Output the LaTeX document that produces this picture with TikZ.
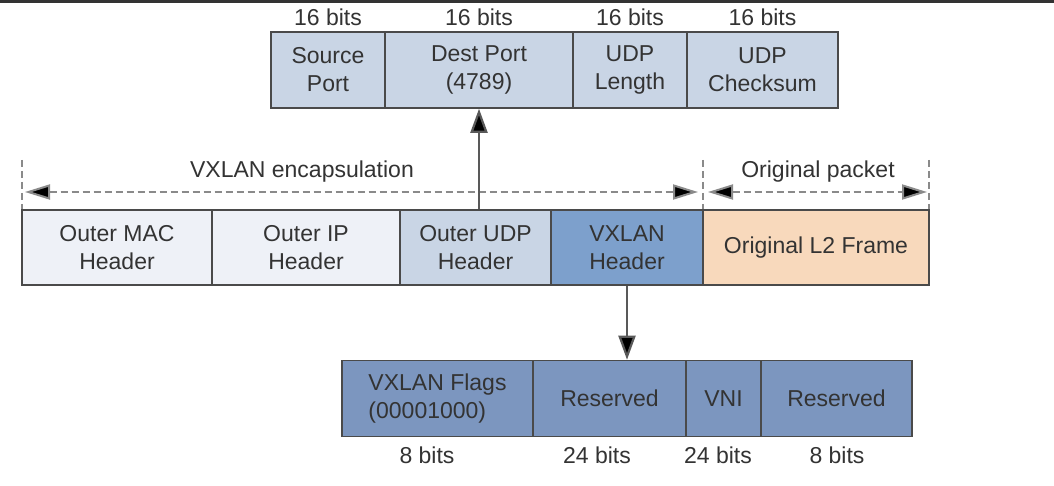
\documentclass[tikz,border=0pt]{standalone}
\usepackage{fontspec}
\setmainfont{Liberation Sans}
\usetikzlibrary{arrows.meta,calc}
\definecolor{txt}{HTML}{333333}
\definecolor{edge}{HTML}{4A4A4A}
\definecolor{pale}{HTML}{EEF1F7}
\definecolor{lightblue}{HTML}{C9D5E5}
\definecolor{midblue}{HTML}{7DA0CC}
\definecolor{dimblue}{HTML}{7C96BF}
\definecolor{peach}{HTML}{F8D9BC}
\definecolor{dashgray}{HTML}{8A8A8A}
\tikzset{
  cell/.style={draw=edge, line width=1.6pt, inner sep=0pt, align=center,
    text=txt, font=\fontsize{23}{28}\selectfont},
  lbl/.style={inner sep=0pt, text=txt, font=\fontsize{23}{28}\selectfont},
  arr/.style={draw=black!65, line width=2.2pt, -{Triangle[length=24pt,width=17pt,fill=black]}},
  dimarr/.style={draw=dashgray, line width=2pt, dash pattern=on 7pt off 4pt,
    {Triangle[length=25pt,width=15pt,fill=black]}-{Triangle[length=25pt,width=15pt,fill=black]}},
  tick/.style={draw=dashgray, line width=1.6pt, dash pattern=on 7pt off 4pt}
}
\begin{document}
\begin{tikzpicture}[x=1pt,y=-1pt]
\useasboundingbox (0,0) rectangle (1054,486);
\fill[white] (0,0) rectangle (1054,486);
\draw[black!80, line width=2.5pt] (0,1.5) -- (1054,1.5);

% top row (UDP header)
\node[cell, fill=lightblue, minimum width=114pt, minimum height=76pt] (src) at (328,70) {Source\\Port};
\node[cell, fill=lightblue, minimum width=188pt, minimum height=76pt] (dst) at (479,70) {Dest Port\\(4789)};
\node[cell, fill=lightblue, minimum width=114pt, minimum height=76pt] (len) at (630,70) {UDP\\Length};
\node[cell, fill=lightblue, minimum width=151pt, minimum height=76pt] (chk) at (762.5,70) {UDP\\Checksum};
\node[lbl] (b1) at (328,17) {16 bits};
\node[lbl] (b2) at (479,17) {16 bits};
\node[lbl] (b3) at (630,17) {16 bits};
\node[lbl] (b4) at (762.5,17) {16 bits};

% middle row
\node[cell, fill=pale, minimum width=190pt, minimum height=75pt] (mac) at (117,247.5) {Outer MAC\\Header};
\node[cell, fill=pale, minimum width=188pt, minimum height=75pt] (ip) at (306,247.5) {Outer IP\\Header};
\node[cell, fill=lightblue, minimum width=151pt, minimum height=75pt] (udp) at (475.5,247.5) {Outer UDP\\Header};
\node[cell, fill=midblue, minimum width=152pt, minimum height=75pt] (vx) at (627,247.5) {VXLAN\\Header};
\node[cell, fill=peach, minimum width=226pt, minimum height=75pt] (l2) at (816,247.5) {Original L2 Frame};

% bottom row (VXLAN header)
\node[cell, fill=dimblue, minimum width=191pt, minimum height=76pt, align=left] (flags) at (437.5,398.5) {VXLAN Flags\\(00001000)};
\node[cell, fill=dimblue, minimum width=153pt, minimum height=76pt] (res1) at (609.5,398.5) {Reserved};
\node[cell, fill=dimblue, minimum width=75pt, minimum height=76pt] (vni) at (723.5,398.5) {VNI};
\node[cell, fill=dimblue, minimum width=151pt, minimum height=76pt] (res2) at (836.5,398.5) {Reserved};
\node[lbl] (c1) at (427,455) {8 bits};
\node[lbl] (c2) at (597,455) {24 bits};
\node[lbl] (c3) at (718,455) {24 bits};
\node[lbl] (c4) at (837,455) {8 bits};

% extent markers
\coordinate (t1) at (22,160);
\coordinate (t2) at (703,160);
\coordinate (t3) at (929,160);
\draw[tick] (t1) -- (t1 |- mac.north);
\draw[tick] (t2) -- (t2 |- l2.north);
\draw[tick] (t3) -- (t3 |- l2.north);
\coordinate (e1) at (25,192);
\coordinate (e2) at (698,192);
\coordinate (o1) at (708,192);
\coordinate (o2) at (927,192);
\draw[dimarr] (e1) -- (e2);
\draw[dimarr] (o1) -- (o2);
\node[lbl] (enc) at (302,172) {VXLAN encapsulation};
\node[lbl] (orig) at (818,172) {Original packet};

% connectors
\draw[arr] (udp.north -| dst.south) -- (dst.south);
\draw[arr] (vx.south) -- (vx.south |- res1.north);
\end{tikzpicture}
\end{document}
